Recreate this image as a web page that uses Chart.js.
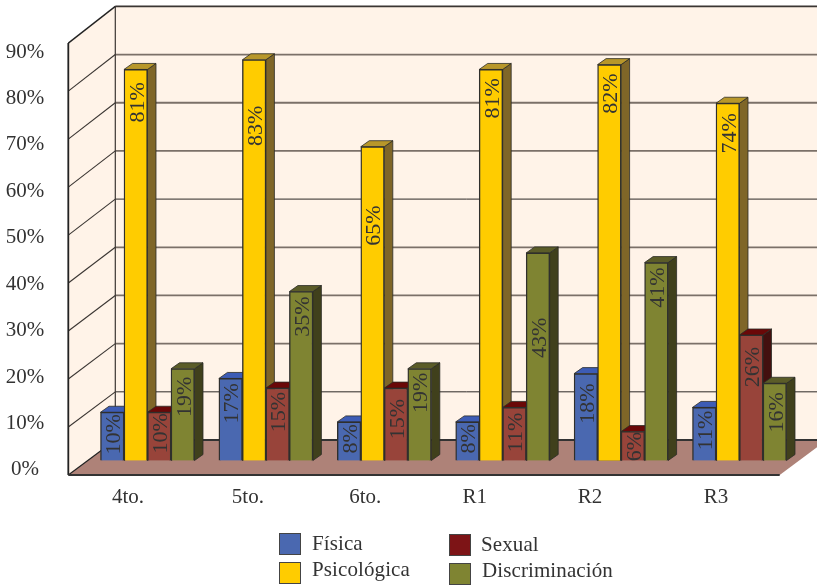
<!DOCTYPE html>
<html lang="es">
<head>
<meta charset="UTF-8">
<title>Violencia por grado</title>
<script src="https://cdn.jsdelivr.net/npm/chart.js"></script>
<style>
    body { margin: 0; background: #fff; }
    #wrap { position: relative; width: 817px; height: 586px; overflow: hidden; }
    #wrap canvas { position: absolute; left: 0; top: 0; }
    .key { position: absolute; width: 20px; height: 20px; border: 1.5px solid #444; }
    .name { position: absolute; font: 21px "Liberation Serif", serif; color: #333; line-height: 24px; white-space: nowrap; letter-spacing: 0.1px; }
</style>
</head>
<body>
<div id="wrap"><canvas id="grafica" width="817" height="586"></canvas></div>
<script>
    const categories = ['4to.', '5to.', '6to.', 'R1', 'R2', 'R3'];
    const fisica = [10, 17, 8, 8, 18, 11];
    const psicologica = [81, 83, 65, 81, 82, 74];
    const sexual = [10, 15, 15, 11, 6, 26];
    const discriminacion = [19, 35, 19, 43, 41, 16];
    const tickValues = [0, 10, 20, 30, 40, 50, 60, 70, 80, 90];
    const tickLabels = ['0%', '10%', '20%', '30%', '40%', '50%', '60%', '70%', '80%', '90%'];

    const TEXT = '#333';
    const SERIF = '"Liberation Serif", serif';

    // front, side and top colour of each series
    const series = [
        { label: 'Física', data: fisica, front: '#4a68b0', side: '#2c3f78', top: '#3d5cb5' },
        { label: 'Psicológica', data: psicologica, front: '#ffcc00', side: '#7f6628', top: '#b8972a' },
        { label: 'Sexual', data: sexual, front: '#98443a', side: '#43100f', top: '#6a0808', key: '#7d1416' },
        { label: 'Discriminación', data: discriminacion, front: '#7f8432', side: '#40401c', top: '#5b5c28' }
    ];

    // how far below the top of each bar its rotated label sits
    const labelDrop = [
        [22, 25, 17, 17, 30, 23],
        [33, 66, 79, 29, 29, 30],
        [21, 24, 31, 25, 15, 32],
        [28, 25, 24, 85, 25, 29]
    ];
    // category labels sit under the front edge of the floor, not quite evenly
    const labelNudge = [-19.5, -18, -19, -28, -31, -23.5];

    const BAR_DX = 8.5, BAR_DY = -6;

    function polygon(ctx, pts, fill, stroke, lw) {
        ctx.beginPath();
        pts.forEach((p, i) => i ? ctx.lineTo(p[0], p[1]) : ctx.moveTo(p[0], p[1]));
        ctx.closePath();
        if (fill) { ctx.fillStyle = fill; ctx.fill(); }
        if (stroke) { ctx.strokeStyle = stroke; ctx.lineWidth = lw; ctx.stroke(); }
    }

    function line(ctx, x1, y1, x2, y2, color, lw) {
        ctx.beginPath();
        ctx.moveTo(x1, y1);
        ctx.lineTo(x2, y2);
        ctx.strokeStyle = color;
        ctx.lineWidth = lw;
        ctx.stroke();
    }

    // walls, floor and grid behind the bars, then the bars' tops and sides
    const box3d = {
        id: 'box3d',
        beforeDatasetsDraw(chart) {
            const ctx = chart.ctx, a = chart.chartArea, y = chart.scales.y;
            const frontY = v => y.getPixelForValue(v * 0.994) + 14.5;
            const backY = v => y.getPixelForValue(v * 0.998) - 20.5;
            const fl = a.left - 20, fr = a.right - 19, bl = a.left + 27, br = a.right + 28;
            const topV = tickValues[tickValues.length - 1];

            ctx.save();
            polygon(ctx, [[bl, backY(topV)], [br, backY(topV)], [br, backY(0)], [bl, backY(0)]], '#fff3e8');
            polygon(ctx, [[fl, frontY(topV)], [bl, backY(topV)], [bl, backY(0)], [fl, frontY(0)]], '#fff3e8');
            polygon(ctx, [[fl, frontY(0)], [bl, backY(0)], [br, backY(0)], [fr, frontY(0)]], '#ae8278');

            tickValues.forEach(v => {
                if (v === 0 || v === topV) return;
                // 10 and 50 print as crisp thin rules, the rest come out wider and greyer
                if (v === 10 || v === 50) line(ctx, bl, backY(v), br, backY(v), '#2c2826', 1);
                else line(ctx, bl, backY(v), br, backY(v), '#7b7068', 1.8);
                line(ctx, fl, frontY(v), bl, backY(v), '#3a3532', 1.1);
            });
            line(ctx, bl, backY(topV), br, backY(topV), '#3a3532', 1.6);
            line(ctx, bl, backY(topV), bl, backY(0), '#3a3532', 1.2);
            line(ctx, fl, frontY(topV), bl, backY(topV), '#222', 1.4);
            line(ctx, fl, frontY(0), bl, backY(0), '#222', 1.2);
            line(ctx, bl, backY(0), br, backY(0), '#333', 1.8);
            line(ctx, fl, frontY(topV), fl, frontY(0), '#222', 1.8);
            line(ctx, fl, frontY(0), fr, frontY(0), '#333', 2.2);

            // left to right so a bar's top lands over its neighbour's side
            categories.forEach((c, i) => {
                series.forEach((s, k) => {
                    const bar = chart.getDatasetMeta(k).data[i];
                    const l = bar.x - bar.width / 2, r = bar.x + bar.width / 2;
                    polygon(ctx, [[r, bar.y], [r + BAR_DX, bar.y + BAR_DY], [r + BAR_DX, bar.base + BAR_DY], [r, bar.base]], s.side, '#2b2b26', 0.8);
                    polygon(ctx, [[l, bar.y], [l + BAR_DX, bar.y + BAR_DY], [r + BAR_DX, bar.y + BAR_DY], [r, bar.y]], s.top, '#2b2b26', 0.8);
                });
            });
            ctx.restore();
        },
        afterDatasetsDraw(chart) {
            const ctx = chart.ctx;
            ctx.save();
            ctx.font = '22px ' + SERIF;
            ctx.fillStyle = TEXT;
            ctx.textAlign = 'center';
            ctx.textBaseline = 'middle';
            series.forEach((s, k) => {
                chart.getDatasetMeta(k).data.forEach((bar, i) => {
                    ctx.save();
                    ctx.translate(bar.x, bar.y + labelDrop[k][i]);
                    ctx.rotate(-Math.PI / 2);
                    ctx.fillText(s.data[i] + '%', 0, 2);
                    ctx.restore();
                });
            });
            ctx.restore();
        }
    };

    new Chart(document.getElementById('grafica'), {
        type: 'bar',
        data: {
            labels: categories,
            datasets: series.map(s => ({
                label: s.label,
                data: s.data,
                backgroundColor: s.front,
                borderColor: '#2f2f2c',
                borderWidth: 1.4,
                barThickness: 23.5,
                yAxisID: 'y'
            }))
        },
        plugins: [box3d],
        options: {
            responsive: false,
            animation: false,
            layout: { padding: { top: 26, right: 18.3, left: 0, bottom: 0 } },
            plugins: { legend: { display: false }, tooltip: { enabled: false } },
            scales: {
                x: {
                    grid: { display: false },
                    border: { display: false },
                    ticks: { color: TEXT, font: { family: SERIF, size: 21 }, padding: 2, maxRotation: 0 },
                    afterFit: s => {
                        s.height = 111;
                        s.getPixelForTick = i => Object.getPrototypeOf(s).getPixelForTick.call(s, i) + labelNudge[i];
                    }
                },
                // bars are measured on this one
                y: { display: false, min: -3, max: 90 },
                // the percentage labels run on their own slightly tighter spacing
                yLabels: {
                    position: 'left',
                    min: -1.08,
                    max: 95.6,
                    grid: { display: false, drawTicks: false },
                    border: { display: false },
                    afterBuildTicks: s => { s.ticks = tickValues.map(value => ({ value })); },
                    // the tick padding would otherwise push the plot area down
                    afterFit: s => { s.width = 88.3; s.paddingTop = 0; s.paddingBottom = 0; },
                    ticks: {
                        autoSkip: false,
                        crossAlign: 'center',
                        color: TEXT,
                        padding: 44,
                        font: { family: SERIF, size: 21 },
                        callback: (v, i) => tickLabels[i]
                    }
                }
            }
        }
    });

    // legend, two columns of two
    const wrap = document.getElementById('wrap');
    const legendSpots = [[279, 533, 312, 531], [279, 562, 312, 557], [449, 534, 481, 532], [449, 563, 482, 558]];
    series.forEach((s, i) => {
        const [kx, ky, tx, ty] = legendSpots[i];
        const key = document.createElement('div');
        key.className = 'key';
        key.style.cssText = `left:${kx}px;top:${ky}px;background:${s.key || s.front}`;
        const name = document.createElement('div');
        name.className = 'name';
        name.style.cssText = `left:${tx}px;top:${ty}px`;
        name.textContent = s.label;
        wrap.append(key, name);
    });
</script>
</body>
</html>
